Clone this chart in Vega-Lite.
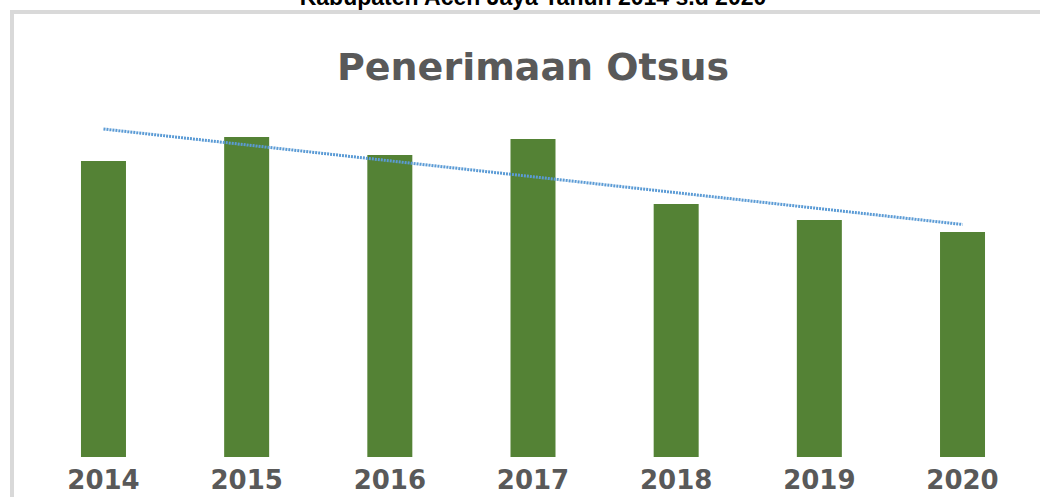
{
  "$schema": "https://vega.github.io/schema/vega-lite/v6.json",
  "autosize": "none",
  "width": 1042,
  "height": 500,
  "padding": {"left": 12, "top": 12, "right": -14, "bottom": -15},
  "background": "white",
  "datasets": {
    "bars": [
      {"year": "2014", "value": 296},
      {"year": "2015", "value": 320},
      {"year": "2016", "value": 302},
      {"year": "2017", "value": 318},
      {"year": "2018", "value": 253},
      {"year": "2019", "value": 237},
      {"year": "2020", "value": 225}
    ],
    "trend": [
      {"year": "2014", "value": 328},
      {"year": "2020", "value": 232.5}
    ]
  },
  "title": {
    "text": "Kabupaten Aceh Jaya Tahun 2014 s.d 2020",
    "subtitle": "Penerimaan Otsus",
    "anchor": "middle",
    "orient": "top",
    "offset": -76,
    "font": "Liberation Sans",
    "fontSize": 23,
    "fontWeight": "bold",
    "color": "#000000",
    "subtitleFont": "DejaVu Sans",
    "subtitleFontSize": 38,
    "subtitleFontWeight": "bold",
    "subtitleColor": "#595959",
    "subtitlePadding": 40
  },
  "layer": [
    {
      "data": {"name": "bars"},
      "mark": {"type": "bar", "color": "#548235"},
      "encoding": {
        "x": {
          "field": "year",
          "type": "nominal",
          "scale": {
            "domain": ["2014", "2015", "2016", "2017", "2018", "2019", "2020"],
            "paddingInner": 0.6857,
            "paddingOuter": 0.4818
          },
          "axis": {
            "title": null,
            "orient": "bottom",
            "offset": -55,
            "domain": false,
            "ticks": false,
            "tickSize": 0,
            "labelPadding": 10,
            "labelAngle": 0,
            "labelFont": "DejaVu Sans",
            "labelFontSize": 26,
            "labelFontWeight": "bold",
            "labelColor": "#595959",
            "grid": false
          }
        },
        "y": {
          "field": "value",
          "type": "quantitative",
          "scale": {"domain": [-55, 445], "nice": false, "zero": false},
          "axis": null
        }
      }
    },
    {
      "data": {"name": "trend"},
      "mark": {"type": "line", "color": "#5B9BD5", "strokeWidth": 3, "strokeDash": [2, 1], "strokeCap": "butt"},
      "encoding": {
        "x": {"field": "year", "type": "nominal"},
        "y": {"field": "value", "type": "quantitative"}
      }
    }
  ],
  "config": {
    "view": {"stroke": "#d9d9d9", "strokeWidth": 4, "fill": "white"}
  }
}
